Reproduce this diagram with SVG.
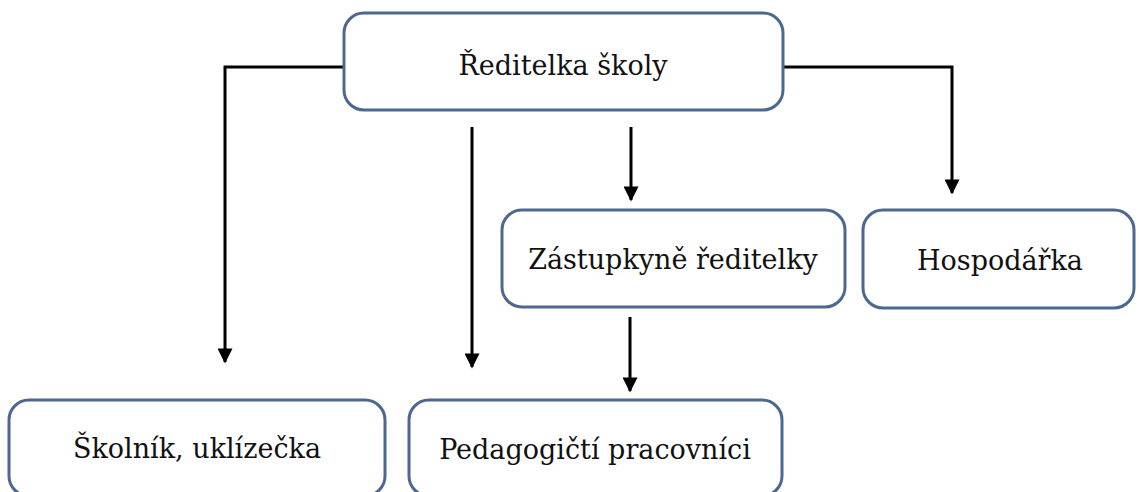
<svg xmlns="http://www.w3.org/2000/svg" width="1139" height="492" viewBox="0 0 1139 492">
<defs>
<style>
.box{fill:#ffffff;stroke:#4d6890;stroke-width:3}
.lbl{font-family:'DejaVu Serif','Liberation Serif',serif;font-size:27px;fill:#111;text-anchor:middle}
.con{fill:none;stroke:#000;stroke-width:3}
</style>
<marker id="ah" viewBox="0 0 10 10" refX="9" refY="5" markerWidth="5.2" markerHeight="5" markerUnits="strokeWidth" orient="auto">
<path d="M0,0 L10,5 L0,10 z" fill="#000"/>
</marker>
</defs>
<rect width="1139" height="492" fill="#ffffff"/>
<g id="connectors">
<polyline class="con" points="344,67 225,67 225,362" marker-end="url(#ah)"/>
<polyline class="con" points="783,67 952,67 952,193" marker-end="url(#ah)"/>
<line class="con" x1="472" y1="127" x2="472" y2="367" marker-end="url(#ah)"/>
<line class="con" x1="631" y1="127" x2="631" y2="200" marker-end="url(#ah)"/>
<line class="con" x1="630" y1="317" x2="630" y2="391" marker-end="url(#ah)"/>
</g>
<g id="n-reditelka">
<rect class="box" x="344" y="13" width="439" height="97" rx="20"/>
<text class="lbl" x="563" y="75">Ředitelka školy</text>
</g>
<g id="n-zastupkyne">
<rect class="box" x="502" y="210" width="343" height="97" rx="20"/>
<text class="lbl" x="673" y="269">Zástupkyně ředitelky</text>
</g>
<g id="n-hospodarka">
<rect class="box" x="863" y="210" width="271" height="98" rx="20"/>
<text class="lbl" x="1000" y="270">Hospodářka</text>
</g>
<g id="n-skolnik">
<rect class="box" x="9" y="400" width="376" height="96" rx="20"/>
<text class="lbl" x="197" y="458">Školník, uklízečka</text>
</g>
<g id="n-pedagogicti">
<rect class="box" x="409" y="400" width="373" height="96" rx="20"/>
<text class="lbl" x="595" y="459">Pedagogičtí pracovníci</text>
</g>
</svg>
